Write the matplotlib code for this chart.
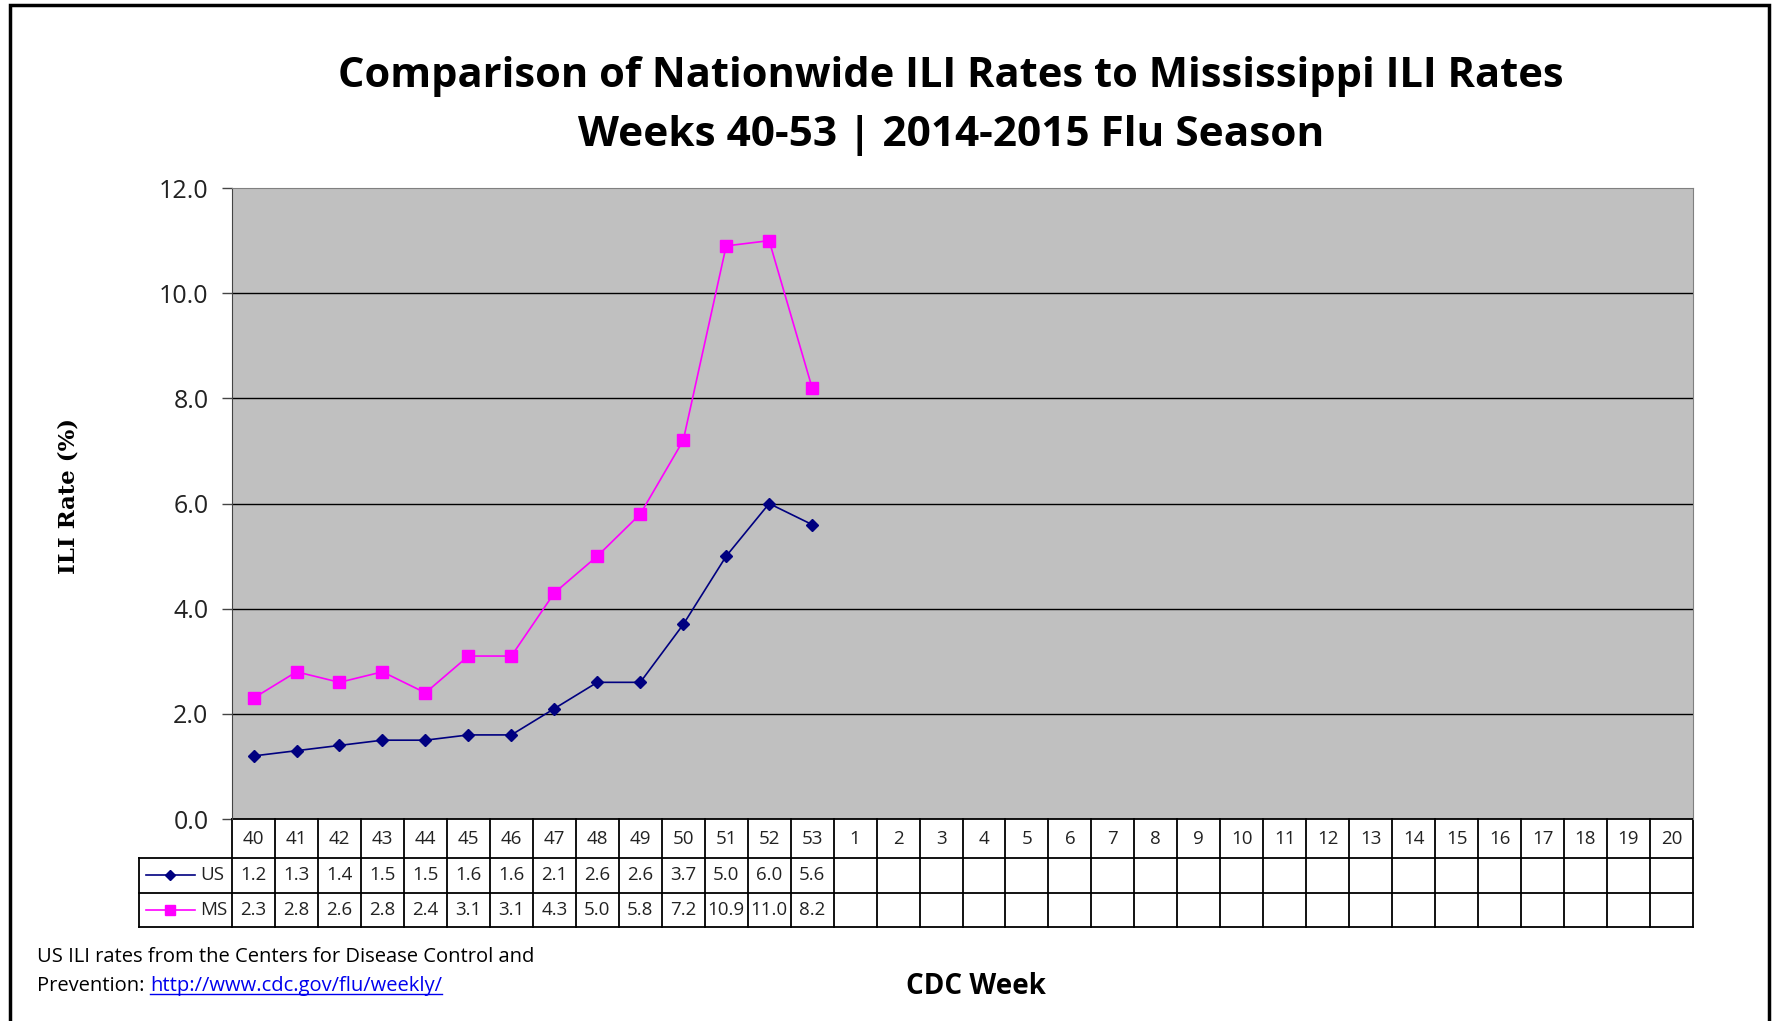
import numpy as np
import matplotlib
matplotlib.use("Agg")
import matplotlib.pyplot as plt
from matplotlib.lines import Line2D
from matplotlib.patches import Rectangle

weeks = ["40", "41", "42", "43", "44", "45", "46", "47", "48", "49", "50", "51", "52", "53",
         "1", "2", "3", "4", "5", "6", "7", "8", "9", "10", "11", "12", "13", "14", "15",
         "16", "17", "18", "19", "20"]
us = [1.2, 1.3, 1.4, 1.5, 1.5, 1.6, 1.6, 2.1, 2.6, 2.6, 3.7, 5.0, 6.0, 5.6]
ms = [2.3, 2.8, 2.6, 2.8, 2.4, 3.1, 3.1, 4.3, 5.0, 5.8, 7.2, 10.9, 11.0, 8.2]
yticks = [0, 2, 4, 6, 8, 10, 12]

navy = "#000080"
pink = "#FF00FF"
txt = "#222222"

fig = plt.figure(figsize=(17.77, 10.21), dpi=100)
ax = fig.add_axes([0.1306, 0.1978, 0.8221, 0.6180])
ax.set_facecolor("#C0C0C0")

x = np.arange(len(us))
ax.plot(x, us, color=navy, lw=1.2, marker="D", ms=6, zorder=3)
ax.plot(x, ms, color=pink, lw=1.2, marker="s", ms=8, zorder=3)

ax.set_xlim(-0.5, len(weeks) - 0.5)
ax.set_ylim(0, 12)
ax.set_yticks(yticks)
ax.set_yticklabels([f"{v:.1f}" for v in yticks], fontsize=18, color=txt, family="Open Sans")
ax.tick_params(axis="y", length=7, width=1, pad=10, color="#444444")
ax.set_xticks([])
for v in yticks[1:-1]:
    ax.axhline(v, color="black", lw=1, zorder=1)
for s in ["top", "right"]:
    ax.spines[s].set_color("#808080")
ax.spines["left"].set_color("#444444")
ax.spines["bottom"].set_visible(False)

# data table under the plot
tr = ax.get_xaxis_transform()
rows_y = [0, -0.0618, -0.117, -0.171]
leg_left = -2.66
lk = dict(transform=tr, clip_on=False, color="black", lw=1.3)
ax.plot([-0.5, len(weeks) - 0.5], [rows_y[0], rows_y[0]], **lk)
for y in rows_y[1:]:
    ax.plot([leg_left, len(weeks) - 0.5], [y, y], **lk)
for i in range(len(weeks) + 1):
    ax.plot([i - 0.5, i - 0.5], [rows_y[0], rows_y[3]], **lk)
ax.plot([leg_left, leg_left], [rows_y[1], rows_y[3]], **lk)

tf = dict(transform=tr, ha="center", va="center", fontsize=13.5, color=txt, family="Open Sans")
for i, w in enumerate(weeks):
    ax.text(i, (rows_y[0] + rows_y[1]) / 2, w, **tf)
for i, v in enumerate(us):
    ax.text(i, (rows_y[1] + rows_y[2]) / 2, f"{v:.1f}", **tf)
for i, v in enumerate(ms):
    ax.text(i, (rows_y[2] + rows_y[3]) / 2, f"{v:.1f}", **tf)

# legend keys in the table
for name, col, mk, msz, r in [("US", navy, "D", 5, 1), ("MS", pink, "s", 7, 2)]:
    yc = (rows_y[r] + rows_y[r + 1]) / 2
    ax.plot([leg_left + 0.15, leg_left + 1.3], [yc, yc], color=col, lw=1.2,
            transform=tr, clip_on=False)
    ax.plot([leg_left + 0.72], [yc], color=col, marker=mk, ms=msz,
            transform=tr, clip_on=False)
    ax.text(leg_left + 1.42, yc, name, transform=tr, ha="left", va="center",
            fontsize=13.5, color=txt, family="Open Sans")

fig.text(0.535, 0.925, "Comparison of Nationwide ILI Rates to Mississippi ILI Rates",
         ha="center", va="center", fontsize=30, fontweight="bold", family="Open Sans")
fig.text(0.535, 0.867, "Weeks 40-53 | 2014-2015 Flu Season",
         ha="center", va="center", fontsize=30.5, fontweight="bold", family="Open Sans")
fig.text(0.0383, 0.514, "ILI Rate (%)", rotation=90, ha="center", va="center",
         fontsize=16.5, fontweight="bold", family="DejaVu Serif")
fig.text(0.549, 0.034, "CDC Week", ha="center", va="center",
         fontsize=20, fontweight="bold", family="Open Sans")

fig.text(0.021, 0.063, "US ILI rates from the Centers for Disease Control and",
         ha="left", va="center", fontsize=14.5, color="black", family="Open Sans")
t1 = fig.text(0.021, 0.034, "Prevention: ", ha="left", va="center", fontsize=14.5,
              color="black", family="Open Sans")
fig.canvas.draw()
bb = t1.get_window_extent()
link = fig.text(bb.x1 / fig.bbox.width, 0.034, "http://www.cdc.gov/flu/weekly/",
                ha="left", va="center", fontsize=14.5, color="#0000EE", family="Open Sans")
fig.canvas.draw()
lb = link.get_window_extent()
fig.add_artist(Line2D([lb.x0 / fig.bbox.width, lb.x1 / fig.bbox.width],
                      [(lb.y0 + 2) / fig.bbox.height] * 2, color="#0000EE", lw=1))

# outer frame
fig.add_artist(Rectangle((10 / 1777, -0.05), 1759 / 1777, 1.0 - 5 / 1021 + 0.05,
                         transform=fig.transFigure, fill=False, ec="black", lw=2.5))

fig.savefig("out.png", dpi=100)
